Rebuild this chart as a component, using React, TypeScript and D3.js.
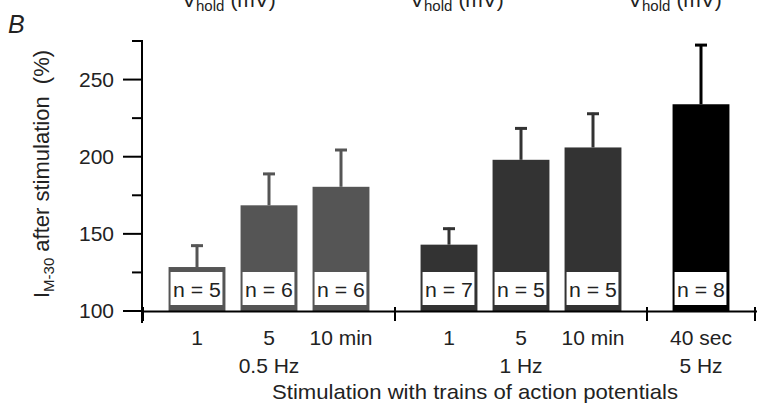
import React from "react";
import * as d3 from "d3";

const categories = ["1", "5", "10 min", "1", "5", "10 min", "40 sec"];
const groupOf = [0, 0, 0, 1, 1, 1, 2];
const indexInGroup = [0, 1, 2, 0, 1, 2, 0];
const groupLabels = ["0.5 Hz", "1 Hz", "5 Hz"];
const means = [128.5, 168.5, 180.5, 143, 198, 206, 234];
const errUpper = [143, 189.5, 205, 154, 219, 228.5, 273];
const nCounts = [5, 6, 6, 7, 5, 5, 8];
const groupColors = ["#555555", "#333333", "#000000"];
const majorTicks = [100, 150, 200, 250];
const minorTicks = [125, 175, 225, 275];
const vholdStarts = [182, 410, 628];

const W = 757;
const H = 406;
const FONT = "'Liberation Sans', Arial, Helvetica, sans-serif";

export default function App() {
  const x = d3.scaleLinear().domain([-1.5, 15.5]).range([143, 755]);
  const y = d3.scaleLinear().domain([100, 275]).range([311, 41]);
  const slot = (i: number) => groupOf[i] * 7 + indexInGroup[i] * 2;
  const bw = x(1.58) - x(0);
  const groupTicks = [-1.5, 5.5, 12.5, 15.5];
  const y0 = y(100);

  return (
    <svg
      width={W}
      height={H}
      style={{ position: "absolute", left: 0, top: 0, background: "#fff" }}
      fontFamily={FONT}
    >
      <rect x={0} y={0} width={W} height={H} fill="#fff" />
      {/* top V_hold labels, clipped by the top edge as in the reference */}
      {vholdStarts.map((sx, i) => (
        <text key={"vh" + i} x={sx} y={7} fontSize={21} fill="#222">
          V
          <tspan fontSize={15} dy={4}>hold</tspan>
          <tspan dy={-4} dx={6}>(mV)</tspan>
        </text>
      ))}
      <text x={8} y={33} fontSize={25} fontStyle="italic" fill="#222">
        B
      </text>

      {/* bars */}
      {means.map((m, i) => {
        const cx = x(slot(i));
        const col = groupColors[groupOf[i]];
        return (
          <g key={"b" + i}>
            <line x1={cx} x2={cx} y1={y(m)} y2={y(errUpper[i])} stroke={col} strokeWidth={3} />
            <line
              x1={cx - 6}
              x2={cx + 6}
              y1={y(errUpper[i]) + 1}
              y2={y(errUpper[i]) + 1}
              stroke={col}
              strokeWidth={3}
            />
            <rect x={cx - bw / 2} y={y(m)} width={bw} height={y0 - y(m)} fill={col} />
            <rect x={cx - bw / 2 + 2} y={y0 - 39} width={bw - 5} height={33} fill="#fff" />
            <text
              x={cx}
              y={y0 - 14}
              fontSize={20}
              textAnchor="middle"
              fill="#222"
              textLength={bw - 9}
              lengthAdjust="spacingAndGlyphs"
            >
              {`n = ${nCounts[i]}`}
            </text>
          </g>
        );
      })}

      {/* y axis */}
      <line x1={142} x2={142} y1={y(275) - 1} y2={y0 + 12} stroke="#000" strokeWidth={2} />
      {majorTicks.map((t) => (
        <g key={"mj" + t}>
          <line x1={123} x2={142} y1={y(t)} y2={y(t)} stroke="#000" strokeWidth={2} />
          <text x={114} y={y(t) + 7} fontSize={21} textAnchor="end" fill="#222">
            {t}
          </text>
        </g>
      ))}
      {minorTicks.map((t) => (
        <line key={"mn" + t} x1={132} x2={142} y1={y(t)} y2={y(t)} stroke="#000" strokeWidth={2} />
      ))}

      {/* x axis */}
      <line x1={141} x2={W} y1={y0 + 0.5} y2={y0 + 0.5} stroke="#000" strokeWidth={2} />
      {groupTicks.map((g, i) => (
        <line key={"gt" + i} x1={x(g)} x2={x(g)} y1={y0 - 4} y2={y0 + 10} stroke="#000" strokeWidth={2} />
      ))}
      {categories.map((c, i) => (
        <text key={"c" + i} x={x(slot(i))} y={345} fontSize={21} textAnchor="middle" fill="#222">
          {c}
        </text>
      ))}
      {groupLabels.map((g, gi) => {
        const members = categories.map((_, i) => i).filter((i) => groupOf[i] === gi);
        const mid = members[Math.floor(members.length / 2)];
        return (
          <text key={"g" + gi} x={x(slot(mid))} y={373} fontSize={21} textAnchor="middle" fill="#222">
            {g}
          </text>
        );
      })}
      <text
        x={475}
        y={399}
        fontSize={21}
        textAnchor="middle"
        fill="#222"
        textLength={406}
        lengthAdjust="spacingAndGlyphs"
      >
        Stimulation with trains of action potentials
      </text>

      {/* y label */}
      <text transform={`translate(49, 174) rotate(-90)`} fontSize={22} textAnchor="middle" fill="#222">
        I
        <tspan fontSize={15} dy={5}>M-30</tspan>
        <tspan dy={-5}>{" after stimulation\u00a0\u00a0(%)"}</tspan>
      </text>
    </svg>
  );
}
